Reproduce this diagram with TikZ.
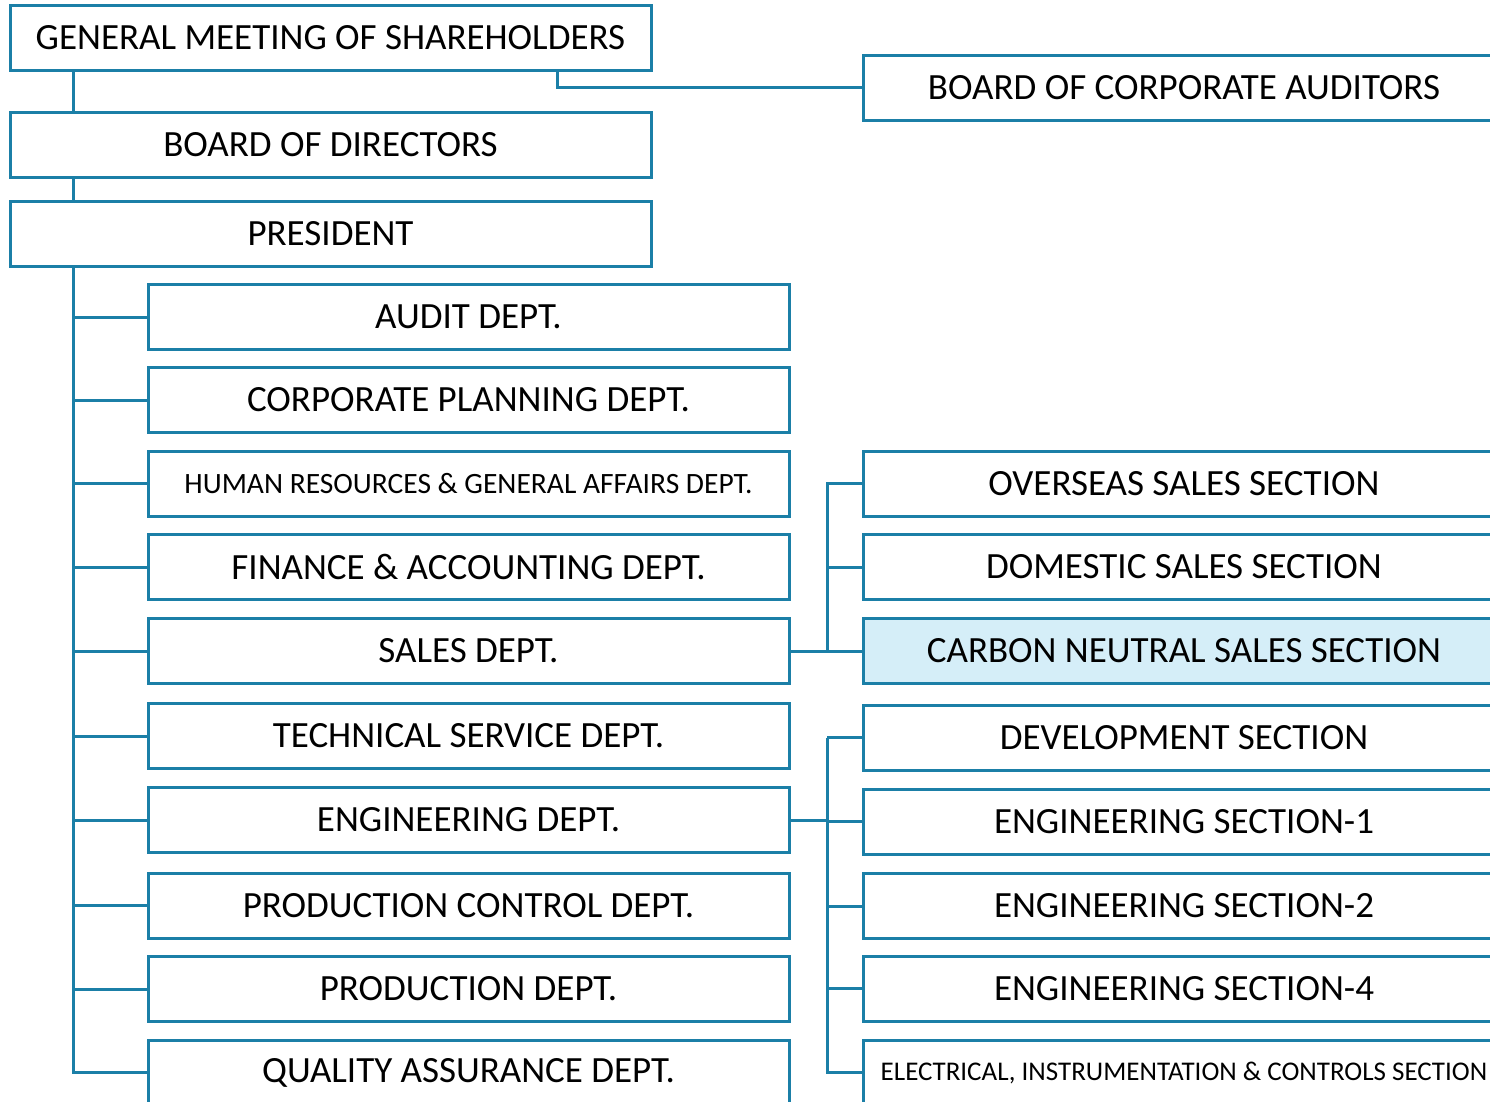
\documentclass[tikz,border=0pt]{standalone}
\usepackage{fontspec}
\setmainfont{Carlito}
\definecolor{linec}{HTML}{1B7FA7}
\definecolor{hilite}{HTML}{D5EEF8}
\begin{document}
\begin{tikzpicture}[x=1pt,y=-1pt,
  unit/.style={draw=linec, line width=3pt, fill=white, minimum width=641pt,
    minimum height=65pt, inner sep=0pt, font=\fontsize{37}{42}\selectfont},
  hrtxt/.style={font=\fontsize{29.5}{34}\selectfont},
  eictxt/.style={font=\fontsize{27}{32}\selectfont},
  link/.style={draw=linec, line width=3pt}]
\useasboundingbox (0,0) rectangle (1490,1101);
\clip (0,0) rectangle (1490,1101);

% top of the hierarchy
\node[unit] (gms)  at (330.5,38)   {GENERAL MEETING OF SHAREHOLDERS};
\node[unit] (bod)  at (330.5,145)  {BOARD OF DIRECTORS};
\node[unit] (pres) at (330.5,233.5){PRESIDENT};
\node[unit] (aud)  at (1184,87.5)  {BOARD OF CORPORATE AUDITORS};

% departments
\node[unit] (audit) at (468.5,317)   {AUDIT DEPT.};
\node[unit] (plan)  at (468.5,400)   {CORPORATE PLANNING DEPT.};
\node[unit,hrtxt] (hr) at (468.5,483.5) {HUMAN RESOURCES \& GENERAL AFFAIRS DEPT.};
\node[unit] (fin)   at (468.5,567)   {FINANCE \& ACCOUNTING DEPT.};
\node[unit] (sales) at (468.5,651)   {SALES DEPT.};
\node[unit] (tech)  at (468.5,736)   {TECHNICAL SERVICE DEPT.};
\node[unit] (eng)   at (468.5,820)   {ENGINEERING DEPT.};
\node[unit] (pctl)  at (468.5,905.5) {PRODUCTION CONTROL DEPT.};
\node[unit] (prod)  at (468.5,989)   {PRODUCTION DEPT.};
\node[unit] (qa)    at (468.5,1072.5){QUALITY ASSURANCE DEPT.};

% sales sections
\node[unit] (ovs) at (1184,483.5) {OVERSEAS SALES SECTION};
\node[unit] (dom) at (1184,567)   {DOMESTIC SALES SECTION};
\node[unit,fill=hilite] (cns) at (1184,651) {CARBON NEUTRAL SALES SECTION};

% engineering sections
\node[unit] (dev)  at (1184,737.5) {DEVELOPMENT SECTION};
\node[unit] (es1)  at (1184,821.5) {ENGINEERING SECTION-1};
\node[unit] (es2)  at (1184,906)   {ENGINEERING SECTION-2};
\node[unit] (es4)  at (1184,988.5) {ENGINEERING SECTION-4};
\node[unit,eictxt] (eic) at (1184,1072.5) {ELECTRICAL, INSTRUMENTATION \& CONTROLS SECTION};

% trunk lines
\coordinate (trunk) at (73,0);
\coordinate (sbar) at (827,0);
\coordinate (gmsdrop) at ([xshift=226.5pt]gms.south);

\draw[link] (trunk |- gms.south) -- (trunk |- bod.north);
\draw[link] (trunk |- bod.south) -- (trunk |- pres.north);
\draw[link] (trunk |- pres.south) |- (qa.west);
\foreach \d in {audit,plan,hr,fin,sales,tech,eng,pctl,prod}
  \draw[link] (trunk |- \d.west) -- (\d.west);

\draw[link] (gmsdrop) |- (aud.west);

% sales bracket
\draw[link] (sales.east) -- (cns.west);
\draw[link] (sbar |- cns.west) |- (ovs.west);
\draw[link] (sbar |- dom.west) -- (dom.west);

% engineering bracket
\draw[link] (eng.east) -- (sbar |- eng.east);
\draw[link] (sbar |- dev.west) -- (dev.west);
\draw[link] (sbar |- dev.west) |- (eic.west);
\foreach \s in {es1,es2,es4}
  \draw[link] (sbar |- \s.west) -- (\s.west);
\end{tikzpicture}
\end{document}
